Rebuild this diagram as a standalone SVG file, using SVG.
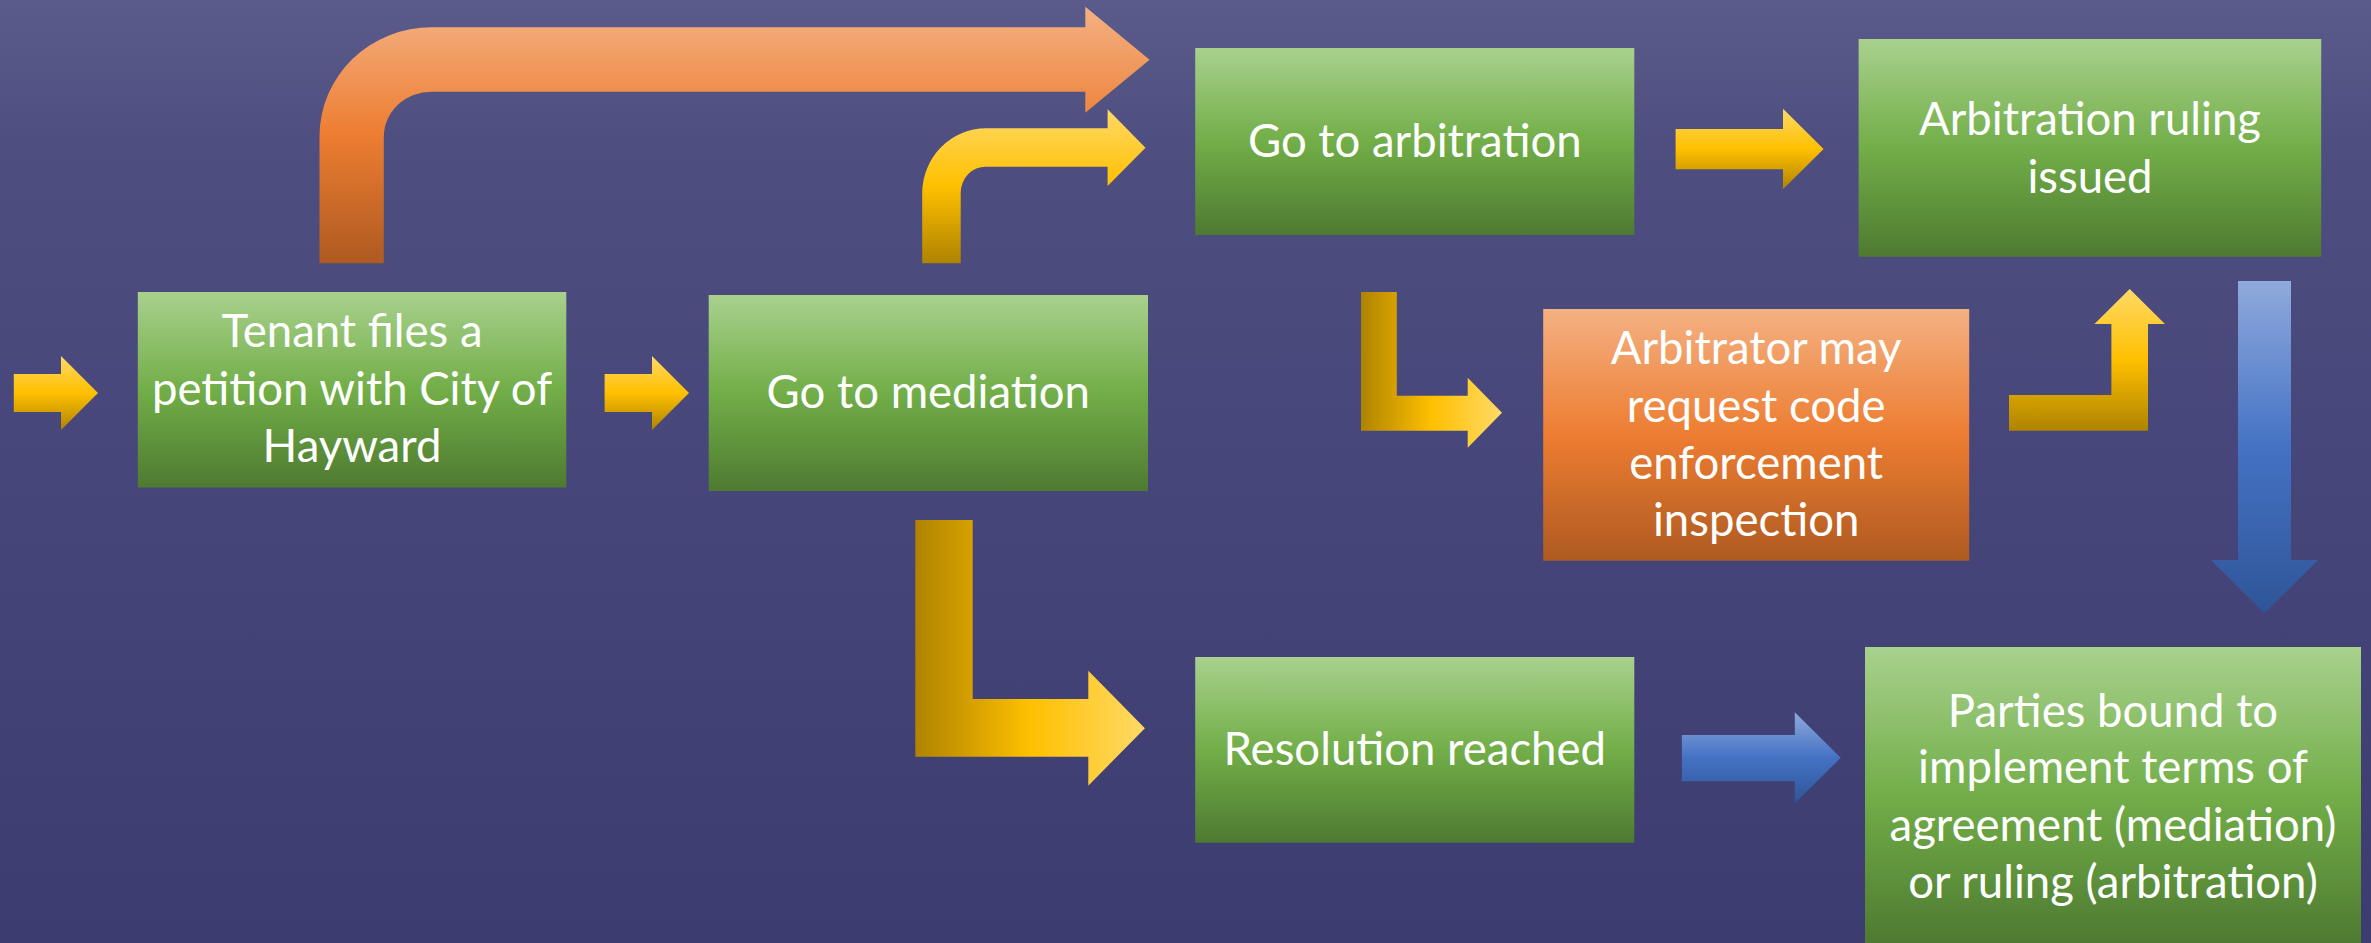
<svg xmlns="http://www.w3.org/2000/svg" width="2371" height="943" viewBox="0 0 2371 943">
<defs>
<linearGradient id="bg" x1="0" y1="0" x2="0" y2="1">
<stop offset="0" stop-color="#5b5b8b"/>
<stop offset="0.15" stop-color="#4e4e80"/>
<stop offset="0.5" stop-color="#46467a"/>
<stop offset="1" stop-color="#3c3c71"/>
</linearGradient>
<linearGradient id="gGreen" x1="0" y1="0" x2="0" y2="1">
<stop offset="0" stop-color="#a9d18e"/>
<stop offset="0.5" stop-color="#72ae48"/>
<stop offset="1" stop-color="#4e7a31"/>
</linearGradient>
<linearGradient id="gOrange" x1="0" y1="0" x2="0" y2="1">
<stop offset="0" stop-color="#f4b183"/>
<stop offset="0.5" stop-color="#ed7d31"/>
<stop offset="1" stop-color="#ae5a21"/>
</linearGradient>
<linearGradient id="gGoldV" x1="0" y1="0" x2="0" y2="1">
<stop offset="0" stop-color="#ffd966"/>
<stop offset="0.5" stop-color="#ffc000"/>
<stop offset="1" stop-color="#ae8300"/>
</linearGradient>
<linearGradient id="gGoldH" x1="0" y1="0" x2="1" y2="0">
<stop offset="0" stop-color="#ae8300"/>
<stop offset="0.5" stop-color="#ffc000"/>
<stop offset="1" stop-color="#ffd966"/>
</linearGradient>
<linearGradient id="gBlue" x1="0" y1="0" x2="0" y2="1">
<stop offset="0" stop-color="#8faadc"/>
<stop offset="0.5" stop-color="#4472c4"/>
<stop offset="1" stop-color="#2f5597"/>
</linearGradient>
</defs>
<style>
.box text{font-family:Lato,"Liberation Sans",sans-serif;font-size:45.5px;fill:#ffffff;text-anchor:middle}
.green{fill:url(#gGreen)}
.orange{fill:url(#gOrange)}
.goldV{fill:url(#gGoldV)}
.goldH{fill:url(#gGoldH)}
.blue{fill:url(#gBlue)}
</style>
<rect x="0" y="0" width="2371" height="943" fill="url(#bg)"/>

<g id="connectors">
<path class="goldV" d="M13.8,374 H61 V356 L98,393 L61,430 V412 H13.8 Z"/>
<path class="goldV" d="M604.6,374 H652 V356 L689,393 L652,430 V412 H604.6 Z"/>
<path class="orange" d="M319.5,263.3 V136.5 A112,109 0 0 1 432,27.3 H1085.3 V6.7 L1149.6,59.7 L1085.3,112.7 V91.7 H432 A48,45 0 0 0 383.8,136.7 V263.3 Z"/>
<path class="goldV" d="M922.2,263.3 V193 A64,65 0 0 1 986,128.3 H1107.6 V109.3 L1145.5,147.7 L1107.6,186 V166.7 H986 A25,26 0 0 0 960.7,193 V263.3 Z"/>
<path class="goldV" d="M1675.6,129 H1783 V108.7 L1823.6,149 L1783,189.3 V169.3 H1675.6 Z"/>
<path class="goldH" d="M1361,292 H1396.8 V395.7 H1467.7 V377.7 L1502,412.7 L1467.7,447.7 V430.7 H1361 Z"/>
<path class="goldV" d="M2009,395 H2111.4 V324 H2094.4 L2129.7,289 L2165,324 H2148 V430.7 H2009 Z"/>
<path class="blue" d="M2238,281 H2291 V560 H2318 L2264.5,613.3 L2211,560 H2238 Z"/>
<path class="goldH" d="M915.3,520 H972.7 V699 H1088.3 V670.7 L1144.9,728.2 L1088.3,785.7 V756.7 H915.3 Z"/>
<path class="blue" d="M1681.9,735 H1794.8 V712.3 L1840.7,757.8 L1794.8,803.3 V781.3 H1681.9 Z"/>
</g>

<g id="tenant" class="box">
<rect class="green" x="137.8" y="292" width="428.5" height="195.5"/>
<text x="352" y="347">Tenant files a</text>
<text x="352" y="405">petition with City of</text>
<text x="352" y="462">Hayward</text>
</g>
<g id="mediation" class="box">
<rect class="green" x="708.7" y="295" width="439.3" height="196"/>
<text x="928.3" y="408">Go to mediation</text>
</g>
<g id="arbitration" class="box">
<rect class="green" x="1195.2" y="48" width="439.1" height="187"/>
<text x="1414.8" y="156.7">Go to arbitration</text>
</g>
<g id="ruling" class="box">
<rect class="green" x="1858.6" y="39" width="462.6" height="217.7"/>
<text x="2090" y="135">Arbitration ruling</text>
<text x="2090" y="192.7">issued</text>
</g>
<g id="inspection" class="box">
<rect class="orange" x="1543.2" y="309" width="426" height="251.7"/>
<text x="1756.2" y="364.3">Arbitrator may</text>
<text x="1756.2" y="421.7">request code</text>
<text x="1756.2" y="479">enforcement</text>
<text x="1756.2" y="536">inspection</text>
</g>
<g id="resolution" class="box">
<rect class="green" x="1195.2" y="657" width="439.1" height="185.7"/>
<text x="1414.8" y="765">Resolution reached</text>
</g>
<g id="parties" class="box">
<rect class="green" x="1865" y="647" width="496" height="296"/>
<text x="2113" y="727.3">Parties bound to</text>
<text x="2113" y="783.3">implement terms of</text>
<text x="2113" y="840.7">agreement (mediation)</text>
<text x="2113" y="898.3">or ruling (arbitration)</text>
</g>
</svg>
